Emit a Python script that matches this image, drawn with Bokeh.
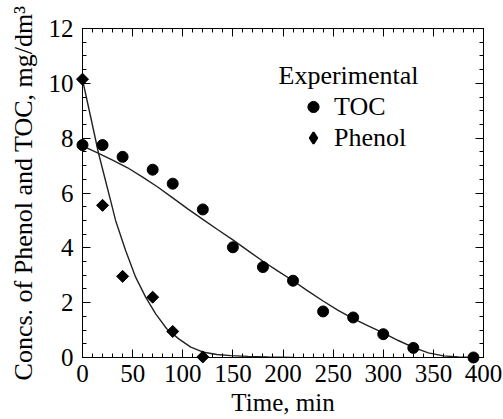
import numpy as np
from bokeh.plotting import figure
from bokeh.models import (LinearAxis, SingleIntervalTicker, Range1d, Legend, LegendItem,
                          Label, CustomJSTickFormatter, ColumnDataSource)
from bokeh.embed import file_html
from bokeh.resources import INLINE

# ---- data ----
toc_time = [0, 20, 40, 70, 90, 120, 150, 180, 210, 240, 270, 300, 330, 390]
toc_conc = [7.75, 7.75, 7.32, 6.85, 6.34, 5.40, 4.02, 3.30, 2.80, 1.68, 1.46, 0.85, 0.35, 0.0]

phenol_time = [0, 20, 40, 70, 90, 120]
phenol_conc = [10.15, 5.55, 2.96, 2.20, 0.95, 0.02]

toc_fit_time = [0, 15, 30, 45, 60, 75, 90, 105, 120, 135, 150, 165, 180, 195, 210,
                225, 240, 255, 270, 285, 300, 315, 330, 345, 360, 375, 390]
toc_fit_conc = [7.72, 7.46, 7.20, 6.92, 6.58, 6.22, 5.82, 5.42, 5.04, 4.66, 4.29, 3.90,
                3.51, 3.15, 2.80, 2.42, 2.06, 1.72, 1.42, 1.15, 0.90, 0.62, 0.37, 0.17,
                0.06, 0.02, 0.0]

phenol_fit_time = [0, 8, 16, 24, 28, 33, 43, 53, 63, 73, 84, 96, 108, 121, 134, 148,
                   165, 185, 210]
phenol_fit_conc = [10.13, 8.80, 7.45, 6.30, 5.73, 5.00, 3.90, 2.93, 2.20, 1.59, 1.05,
                   0.68, 0.38, 0.19, 0.11, 0.07, 0.04, 0.02, 0.0]

x_ticks_interval = 50
y_ticks_interval = 2

FONT = "Liberation Serif"
FS = "25px"
FS_LEG = "26px"

p = figure(width=503, height=419, output_backend="svg", toolbar_location=None,
           x_range=Range1d(0, 400), y_range=Range1d(0, 12),
           min_border_left=82, min_border_right=20, min_border_top=28, min_border_bottom=62)
p.xaxis.visible = False
p.yaxis.visible = False
p.grid.visible = False
p.outline_line_color = "black"
p.outline_line_width = 1
p.background_fill_color = "white"
p.border_fill_color = "white"


def style_axis(ax, labels=True):
    ax.major_tick_in = 8
    ax.major_tick_out = 0
    ax.minor_tick_in = 4
    ax.minor_tick_out = 0
    ax.axis_line_color = "black"
    ax.major_tick_line_color = "black"
    ax.minor_tick_line_color = "black"
    ax.major_label_text_font = FONT
    ax.major_label_text_color = "black"
    ax.axis_label_text_font = FONT
    ax.axis_label_text_font_style = "normal"
    ax.axis_label_text_color = "black"
    ax.axis_label_text_font_size = FS
    if labels:
        ax.major_label_text_font_size = FS
    else:
        ax.major_label_text_font_size = "0px"
        ax.major_label_standoff = 0
        ax.formatter = CustomJSTickFormatter(code="return ''")


xt = lambda: SingleIntervalTicker(interval=x_ticks_interval, num_minor_ticks=5)
yt = lambda: SingleIntervalTicker(interval=y_ticks_interval, num_minor_ticks=4)

xb = LinearAxis(ticker=xt(), axis_label="Time, min")
style_axis(xb)
xb.major_label_standoff = 7
xb.axis_label_standoff = 4
p.add_layout(xb, "below")

yl = LinearAxis(ticker=yt(), axis_label="Concs. of Phenol and TOC, mg/dm\u00b3")
style_axis(yl)
yl.axis_label_text_font_size = "26px"
yl.major_label_standoff = 9
yl.axis_label_standoff = 8
p.add_layout(yl, "left")

xa = LinearAxis(ticker=xt())
style_axis(xa, labels=False)
p.add_layout(xa, "above")

yr = LinearAxis(ticker=yt())
style_axis(yr, labels=False)
p.add_layout(yr, "right")

# fitted curves
p.line(toc_fit_time, toc_fit_conc, line_color="#222222", line_width=1.4)
p.line(phenol_fit_time, phenol_fit_conc, line_color="#222222", line_width=1.4)

# experimental points (overlay level so edge points are not clipped by the frame)
r_toc = p.scatter(toc_time, toc_conc, marker="circle", size=11,
                  fill_color="black", line_color="black", level="overlay")
ph_src = ColumnDataSource(data=dict(t=phenol_time, c=phenol_conc))
# plain diamond (used by the legend), covered by a rotated square in the plot
r_ph_leg = p.scatter("t", "c", source=ph_src, marker="diamond", size=9, line_width=2,
                     fill_color="black", line_color="black", level="overlay")
r_ph = p.scatter("t", "c", source=ph_src, marker="square", size=8.5, angle=np.pi / 4,
                 fill_color="black", line_color="black", level="overlay")

legend = Legend(items=[LegendItem(label="TOC", renderers=[r_toc]),
                       LegendItem(label="Phenol", renderers=[r_ph_leg])],
                location=(217, 204))
legend.label_text_font = FONT
legend.label_text_font_size = FS_LEG
legend.label_text_color = "black"
legend.glyph_width = 28
legend.glyph_height = 31
legend.label_height = 31
legend.label_standoff = 7
legend.spacing = 0
legend.padding = 0
legend.margin = 0
legend.border_line_color = None
legend.background_fill_alpha = 0
p.add_layout(legend, "center")

p.add_layout(Label(x=196, y=282, x_units="screen", y_units="screen", text="Experimental",
                   text_font=FONT, text_font_size=FS_LEG, text_color="black",
                   text_baseline="alphabetic"))

open("out.html", "w").write(file_html(p, INLINE))
